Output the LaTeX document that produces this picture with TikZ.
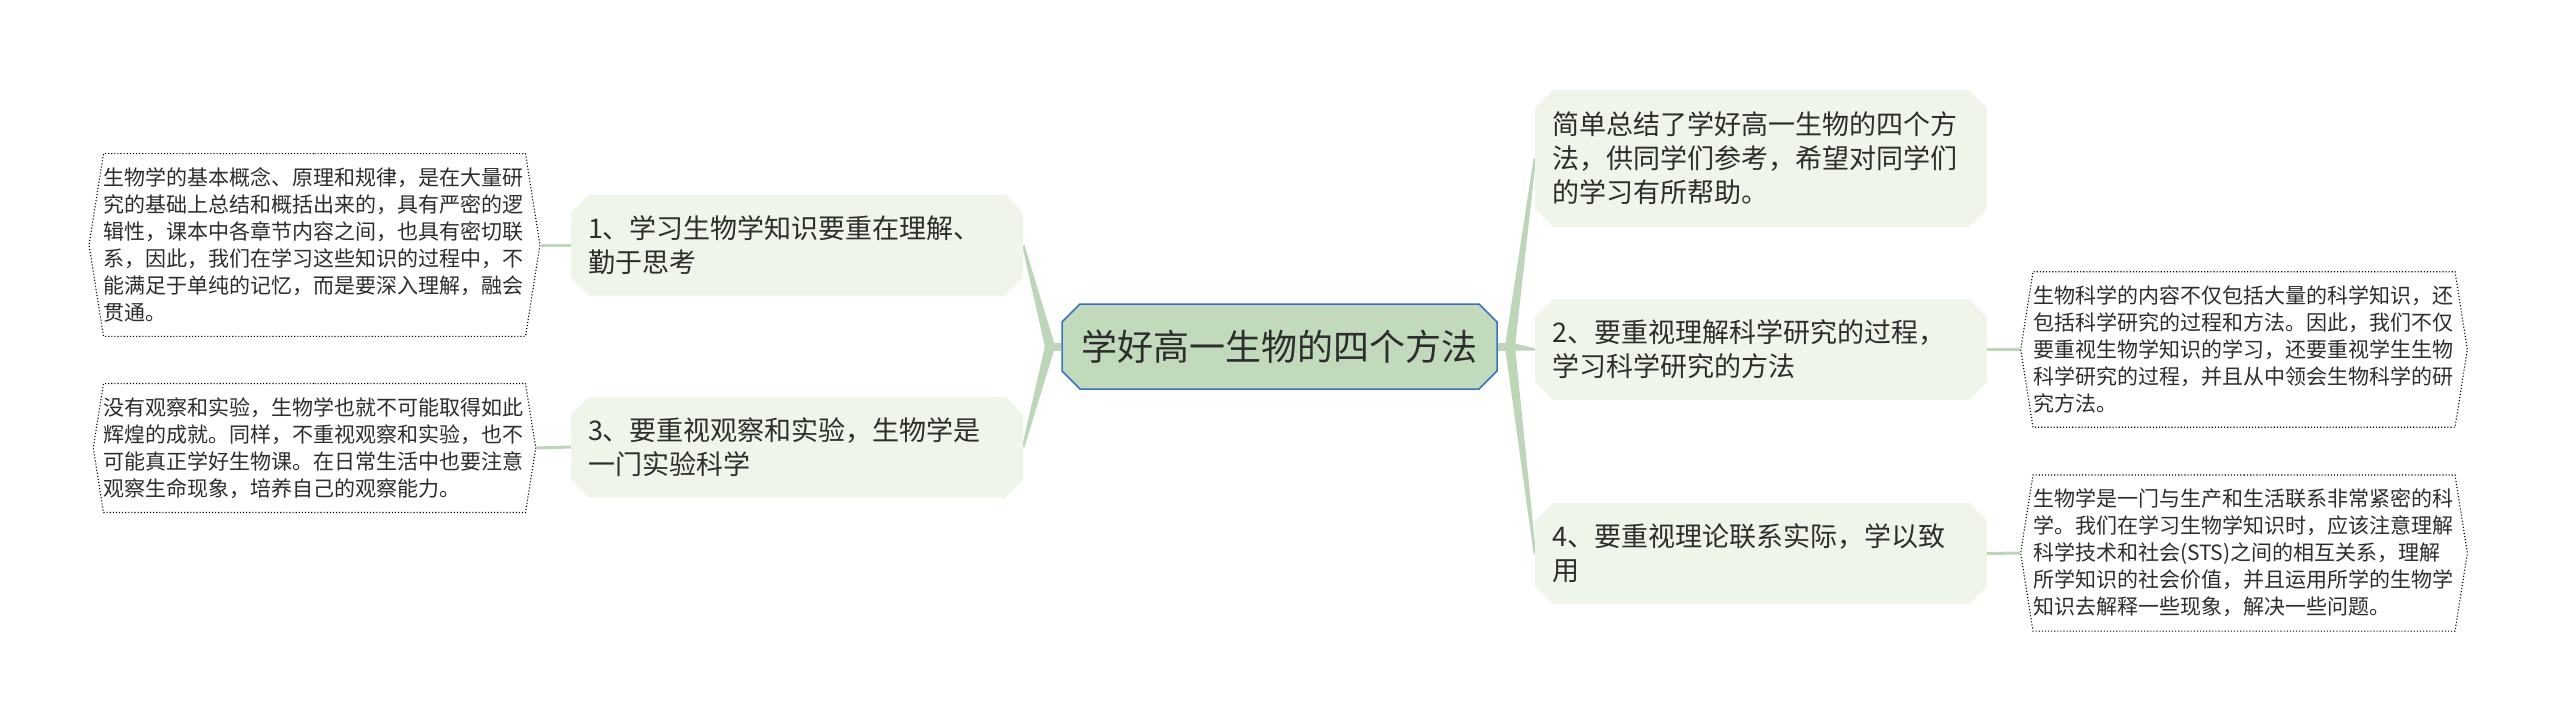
\documentclass[tikz,border=0pt]{standalone}
\usepackage{fontspec}
\setmainfont{Noto Sans CJK SC}
\usetikzlibrary{shapes.misc,shapes.symbols,calc,backgrounds}
\definecolor{branchgreen}{RGB}{188,214,183}
\definecolor{topicfill}{RGB}{239,245,232}
\definecolor{rootfill}{RGB}{193,218,187}
\definecolor{rootline}{RGB}{60,112,196}
\definecolor{inkgray}{RGB}{45,45,45}
\newcommand\taper[3]{%
  \fill[branchgreen] ($(#1)!#3!90:(#2)$) -- ($(#2)!1.2pt!-90:(#1)$)
    -- ($(#2)!1.2pt!90:(#1)$) -- ($(#1)!#3!-90:(#2)$) -- cycle;}
\begin{document}
\begin{tikzpicture}[x=1pt,y=-1pt,
  rootbox/.style={chamfered rectangle,chamfered rectangle xsep=9pt,chamfered rectangle ysep=9pt,
    fill=rootfill,draw=rootline,line width=1.5pt,minimum width=435pt,minimum height=85pt,
    text=inkgray,font=\fontsize{36}{44}\selectfont},
  topicbox/.style={chamfered rectangle,chamfered rectangle xsep=9pt,chamfered rectangle ysep=9pt,
    fill=topicfill,text width=418pt,inner xsep=8pt,align=left,
    text=inkgray,font=\fontsize{27}{34}\selectfont},
  notebox/.style={signal,signal to=east and west,signal pointer angle=162,draw=black,
    dotted,line width=1.1pt,text width=422pt,inner xsep=0pt,inner ysep=14pt,
    align=left,text=inkgray,font=\fontsize{21}{27}\selectfont},
  leafline/.style={draw=branchgreen,line width=3pt}]

  \node[rootbox] (root) at (1279.5,346.5) {学好高一生物的四个方法};

  \node[topicbox,minimum height=101pt] (t1) at (797,245)
    {1、学习生物学知识要重在理解、\\勤于思考};
  \node[topicbox,minimum height=101pt] (t3) at (797,447)
    {3、要重视观察和实验，生物学是\\一门实验科学};
  \node[topicbox,minimum height=137pt] (tsum) at (1761,158.5)
    {简单总结了学好高一生物的四个方\\法，供同学们参考，希望对同学们\\的学习有所帮助。};
  \node[topicbox,minimum height=101pt] (t2) at (1761,349.5)
    {2、要重视理解科学研究的过程，\\学习科学研究的方法};
  \node[topicbox,minimum height=101pt] (t4) at (1761,553.5)
    {4、要重视理论联系实际，学以致\\用};

  \node[notebox] (d1) at (314.5,245)
    {生物学的基本概念、原理和规律，是在大量研\\究的基础上总结和概括出来的，具有严密的逻\\辑性，课本中各章节内容之间，也具有密切联\\系，因此，我们在学习这些知识的过程中，不\\能满足于单纯的记忆，而是要深入理解，融会\\贯通。};
  \node[notebox] (d3) at (314.5,448)
    {没有观察和实验，生物学也就不可能取得如此\\辉煌的成就。同样，不重视观察和实验，也不\\可能真正学好生物课。在日常生活中也要注意\\观察生命现象，培养自己的观察能力。};
  \node[notebox] (d2) at (2244,349.5)
    {生物科学的内容不仅包括大量的科学知识，还\\包括科学研究的过程和方法。因此，我们不仅\\要重视生物学知识的学习，还要重视学生生物\\科学研究的过程，并且从中领会生物科学的研\\究方法。};
  \node[notebox] (d4) at (2244,553)
    {生物学是一门与生产和生活联系非常紧密的科\\学。我们在学习生物学知识时，应该注意理解\\科学技术和社会(STS)之间的相互关系，理解\\所学知识的社会价值，并且运用所学的生物学\\知识去解释一些现象，解决一些问题。};

  \coordinate (jl) at (1050,346.5);
  \coordinate (jr) at (1510,346.5);
  \begin{scope}[on background layer]
    \fill[white] (0,0) rectangle (2560,721);
    \draw[branchgreen,line width=8pt] (root.west) -- (jl);
    \draw[branchgreen,line width=8pt] (root.east) -- (jr);
    \taper{jl}{t1.east}{5pt}
    \taper{jl}{t3.east}{5pt}
    \taper{jr}{tsum.west}{5pt}
    \taper{jr}{t2.west}{4pt}
    \taper{jr}{t4.west}{5pt}
    \draw[leafline] (t1.west) -- (d1.east);
    \draw[leafline] (t3.west) -- (d3.east);
    \draw[leafline] (t2.east) -- (d2.west);
    \draw[leafline] (t4.east) -- (d4.west);
  \end{scope}
\end{tikzpicture}
\end{document}
